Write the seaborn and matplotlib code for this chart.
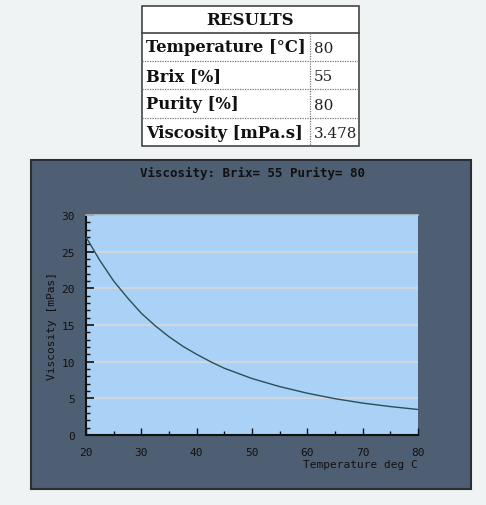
import matplotlib
matplotlib.use("Agg")
import matplotlib.pyplot as plt
from matplotlib.patches import Rectangle
from matplotlib.lines import Line2D
from matplotlib.ticker import MultipleLocator
import seaborn as sns
import pandas as pd

# ---- data ----
temperature = [20, 22.5, 25, 27.5, 30, 32.5, 35, 37.5, 40, 42.5, 45, 50, 55, 60, 65, 70, 75, 80]
viscosity = [27.0, 23.8, 21.0, 18.7, 16.6, 14.9, 13.4, 12.1, 11.0, 10.0, 9.1, 7.7, 6.6, 5.7, 4.95, 4.35, 3.88, 3.478]

table_title = "RESULTS"
table_labels = ["Temperature [°C]", "Brix [%]", "Purity [%]", "Viscosity [mPa.s]"]
table_values = ["80", "55", "80", "3.478"]

chart_title = "Viscosity: Brix= 55 Purity= 80"
x_label = "Temperature deg C"
y_label = "Viscosity [mPas]"
x_ticks = [20, 30, 40, 50, 60, 70, 80]
y_ticks = [0, 5, 10, 15, 20, 25, 30]

df = pd.DataFrame({"T": temperature, "V": viscosity})

W, H = 486, 506
DPI = 100
fig = plt.figure(figsize=(W / DPI, H / DPI), dpi=DPI)
fig.patch.set_facecolor("#eff3f3")

def fx(x):
    return x / W

def fy(y):
    return 1 - y / H

# ---- results table ----
tl, tr, tt, tb = 141.5, 359, 7, 147
col = 310
rows = [7, 33.5, 61.5, 90, 118.5, 147]
fig.patches.append(Rectangle((fx(tl), fy(tb)), fx(tr) - fx(tl), fy(tt) - fy(tb),
                             transform=fig.transFigure, facecolor="white",
                             edgecolor="#444444", linewidth=1.2, zorder=1))
fig.lines.append(Line2D([fx(tl), fx(tr)], [fy(rows[1]), fy(rows[1])],
                        transform=fig.transFigure, color="#444444", lw=1.2))
for r in rows[2:-1]:
    fig.lines.append(Line2D([fx(tl), fx(tr)], [fy(r), fy(r)],
                            transform=fig.transFigure, color="#777777", lw=0.9,
                            linestyle=(0, (1, 1))))
fig.lines.append(Line2D([fx(col), fx(col)], [fy(rows[1]), fy(rows[-1])],
                        transform=fig.transFigure, color="#777777", lw=0.9,
                        linestyle=(0, (1, 1))))
fig.text(fx((tl + tr) / 2), fy(20.5), table_title, ha="center", va="center",
         fontsize=12, fontweight="bold", family="DejaVu Serif", color="#111111")
for i, (lab, val) in enumerate(zip(table_labels, table_values)):
    yc = (rows[i + 1] + rows[i + 2]) / 2 + 0.5
    fig.text(fx(146), fy(yc), lab, ha="left", va="center", fontsize=11.8,
             fontweight="bold", family="DejaVu Serif", color="#111111")
    fig.text(fx(314), fy(yc + 1), val, ha="left", va="center", fontsize=11,
             family="DejaVu Serif", color="#222222")

# ---- chart panel ----
pl, pr, pt, pb = 31, 471, 161, 490
fig.patches.append(Rectangle((fx(pl), fy(pb)), fx(pr) - fx(pl), fy(pt) - fy(pb),
                             transform=fig.transFigure, facecolor="#4e5f73",
                             edgecolor="#2a2f36", linewidth=1.5, zorder=1))
fig.text(fx(252), fy(173), chart_title, ha="center", va="center", fontsize=9,
         fontweight="bold", family="DejaVu Sans Mono", color="#111111")

al, ar, at, ab = 86, 418, 216, 436
ax = fig.add_axes([fx(al), fy(ab), fx(ar) - fx(al), fy(at) - fy(ab)])
ax.set_facecolor("#a9d2f6")
ax.set_zorder(2)

for yv in y_ticks[1:-1]:
    ax.axhline(yv, color="#d8d8d8", lw=1.2, zorder=1)

sns.lineplot(data=df, x="T", y="V", ax=ax, color="#2c4e58", linewidth=1.0, zorder=3)

ax.set_xlim(20, 80)
ax.set_ylim(0, 30)
ax.set_xticks(x_ticks)
ax.set_yticks(y_ticks)
ax.xaxis.set_minor_locator(MultipleLocator(5))
ax.yaxis.set_minor_locator(MultipleLocator(1))
ax.tick_params(axis="both", which="both", direction="in", color="#111111",
               labelsize=8, labelcolor="#111111")
ax.tick_params(axis="y", which="major", length=6, width=1.2, pad=8)
ax.tick_params(axis="y", which="minor", length=3, width=1)
ax.tick_params(axis="x", which="major", length=5, width=1, pad=9)
ax.tick_params(axis="x", which="minor", length=3, width=1)
for lbl in ax.get_xticklabels() + ax.get_yticklabels():
    lbl.set_family("DejaVu Sans Mono")

ax.spines["left"].set_color("#111111")
ax.spines["left"].set_linewidth(1.5)
ax.spines["bottom"].set_color("#111111")
ax.spines["bottom"].set_linewidth(1.5)
ax.spines["top"].set_color("#b8c4cc")
ax.spines["top"].set_linewidth(1.2)
ax.spines["right"].set_visible(False)

ax.set_xlabel(x_label, loc="right", fontsize=8, family="DejaVu Sans Mono",
              color="#111111")
ax.xaxis.set_label_coords(1.0, (ab - 460) / (ab - at))
ax.xaxis.label.set_va("top")
ax.set_ylabel(y_label, fontsize=8, family="DejaVu Sans Mono", color="#111111")
ax.yaxis.set_label_coords((57 - al) / (ar - al), 0.5)

fig.savefig("out.png", dpi=DPI, facecolor=fig.get_facecolor())
